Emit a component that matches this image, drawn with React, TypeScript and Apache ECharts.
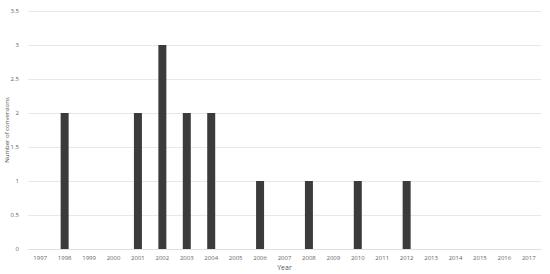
import React, { useEffect, useRef } from "react";
import * as echarts from "echarts";

const years = ["1997","1998","1999","2000","2001","2002","2003","2004","2005","2006","2007","2008","2009","2010","2011","2012","2013","2014","2015","2016","2017"];
const conversions = [0,2,0,0,2,3,2,2,0,1,0,1,0,1,0,1,0,0,0,0,0];

export default function App() {
  const ref = useRef<HTMLDivElement>(null);
  useEffect(() => {
    const chart = echarts.init(ref.current!, null, { renderer: "svg" });
    chart.setOption({
      animation: false,
      grid: { left: 28, right: 9, top: 11, bottom: 25, containLabel: false, outerBoundsMode: "none" },
      xAxis: {
        type: "category",
        data: years,
        name: "Year",
        nameLocation: "middle",
        nameGap: 15,
        nameMoveOverlap: false,
        nameTextStyle: { fontSize: 7, color: "#555", fontFamily: "Open Sans" },
        axisLine: { show: true, lineStyle: { color: "#e0e0e0" } },
        axisTick: { show: false },
        axisLabel: { fontSize: 6, color: "#666", margin: 6, fontFamily: "Open Sans", interval: 0 },
      },
      yAxis: {
        type: "value",
        min: 0,
        max: 3.5,
        interval: 0.5,
        name: "Number of conversions",
        nameLocation: "middle",
        nameGap: 18,
        nameMoveOverlap: false,
        nameTextStyle: { fontSize: 6, color: "#555", fontFamily: "Open Sans" },
        axisLine: { show: false },
        axisTick: { show: false },
        axisLabel: { fontSize: 6, color: "#666", margin: 9, fontFamily: "Open Sans" },
        splitLine: { lineStyle: { color: "#e8e8e8" } },
      },
      series: [
        {
          type: "bar",
          data: conversions,
          barWidth: 8,
          itemStyle: { color: "#3b3b3b" },
        },
      ],
    });
    return () => chart.dispose();
  }, []);
  return <div ref={ref} style={{ width: 550, height: 274, position: "absolute", left: 0, top: 0 }} />;
}
